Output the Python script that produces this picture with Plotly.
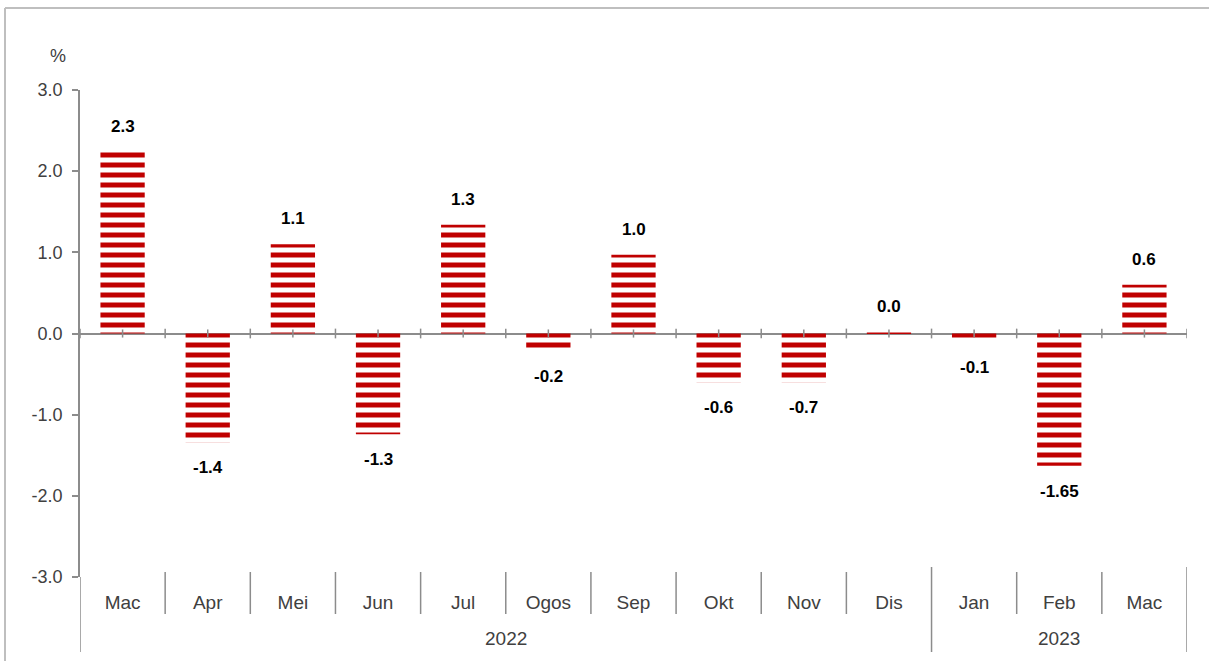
import plotly.graph_objects as go

years = ["2022"] * 10 + ["2023"] * 3
months = ["Mac", "Apr", "Mei", "Jun", "Jul", "Ogos", "Sep", "Okt", "Nov", "Dis", "Jan", "Feb", "Mac"]
values = [2.24, -1.34, 1.10, -1.24, 1.34, -0.21, 0.97, -0.60, -0.60, 0.02, -0.10, -1.63, 0.60]
labels = ["2.3", "-1.4", "1.1", "-1.3", "1.3", "-0.2", "1.0", "-0.6", "-0.7", "0.0", "-0.1", "-1.65", "0.6"]
y_ticks = [-3, -2, -1, 0, 1, 2, 3]
y_ticktext = ["-3.0", "-2.0", "-1.0", "0.0", "1.0", "2.0", "3.0"]

RED = "#C00000"
GREY = "#8C8C8C"
TXT = "#404040"
W, H = 1209, 661
ML, MR, MT, MB = 80, 22, 90, 84
PW, PH = W - ML - MR, H - MT - MB

n = len(months)
xpos = list(range(n))

fig = go.Figure()
fig.add_trace(go.Bar(
    x=xpos, y=values, width=0.52,
    marker=dict(color="white", line=dict(width=0),
                pattern=dict(shape="-", fgcolor=RED, bgcolor="white", fgopacity=1,
                             size=10, solidity=0.5, fillmode="replace")),
    hoverinfo="skip",
))

shapes = []
# zero-line crossing ticks
for i in range(n + 1):
    shapes.append(dict(type="line", xref="x", yref="y", x0=i - 0.5, x1=i - 0.5, y0=-0.06, y1=0.06,
                       line=dict(color=GREY, width=1.5)))
for i in range(n):
    shapes.append(dict(type="line", xref="x", yref="y", x0=i, x1=i, y0=-0.05, y1=0.05,
                       line=dict(color=GREY, width=1.5)))
# month dividers below plot
for i in range(1, n):
    if years[i] != years[i - 1]:
        continue
    shapes.append(dict(type="line", xref="x", yref="paper", x0=i - 0.5, x1=i - 0.5,
                       y0=5 / PH, y1=-37 / PH, line=dict(color=GREY, width=1.5)))
# year dividers
for i in range(n + 1):
    if i == 0 or i == n or years[i] != years[i - 1]:
        shapes.append(dict(type="line", xref="x", yref="paper", x0=i - 0.5, x1=i - 0.5,
                           y0=0 if i == 0 else 10 / PH, y1=-75 / PH,
                           line=dict(color=GREY, width=1.5)))
# outer frame lines
shapes.append(dict(type="line", xref="paper", yref="paper", x0=(5 - ML) / PW, x1=(W - ML) / PW,
                   y0=(PH + MT - 8) / PH, y1=(PH + MT - 8) / PH, line=dict(color="#BFBFBF", width=2)))
shapes.append(dict(type="line", xref="paper", yref="paper", x0=(5 - ML) / PW, x1=(5 - ML) / PW,
                   y0=(PH + MT - 8) / PH, y1=-MB / PH, line=dict(color="#BFBFBF", width=2)))

annotations = []
for i, (v, t) in enumerate(zip(values, labels)):
    pos = v >= 0
    annotations.append(dict(x=i, y=v, xref="x", yref="y", text=t, showarrow=False,
                            yanchor="bottom" if pos else "top", yshift=14 if pos else -14,
                            font=dict(family="Liberation Sans Narrow, Arial Narrow, Liberation Sans, Arial",
                                      size=17, color="black", weight="bold")))
# year labels
seen = []
for y in years:
    if y not in seen:
        seen.append(y)
for yr in seen:
    idx = [i for i, v in enumerate(years) if v == yr]
    annotations.append(dict(x=(idx[0] + idx[-1]) / 2, y=-61 / PH, xref="x", yref="paper", text=yr,
                            showarrow=False, yanchor="middle",
                            font=dict(family="Liberation Sans, Arial", size=19, color=TXT)))
annotations.append(dict(x=(48 - ML) / PW, y=(PH + MT - 44) / PH, xref="paper", yref="paper", text="%",
                        showarrow=False, font=dict(family="Liberation Sans, Arial", size=18, color=TXT)))

fig.update_layout(
    width=W, height=H,
    margin=dict(l=ML, r=MR, t=MT, b=MB, autoexpand=False),
    paper_bgcolor="white", plot_bgcolor="white",
    showlegend=False,
    font=dict(family="Liberation Sans, Arial", size=16, color=TXT),
    xaxis=dict(range=[-0.5, n - 0.5], tickvals=xpos, ticktext=months, showgrid=False, showline=False,
               zeroline=False, ticks="outside", ticklen=8, tickcolor="rgba(0,0,0,0)",
               tickfont=dict(size=19, color=TXT)),
    yaxis=dict(range=[-3, 3], tickvals=y_ticks, ticktext=y_ticktext, showgrid=False,
               showline=True, linecolor=GREY, linewidth=1.5, ticks="outside", ticklen=6,
               tickcolor=GREY, tickwidth=1.5, zeroline=True, zerolinecolor=GREY, zerolinewidth=2,
               ticklabelstandoff=6, tickfont=dict(size=18, color=TXT)),
    shapes=shapes, annotations=annotations,
)
fig.write_html("out.html", config={"displayModeBar": False},
               post_script="document.body.style.margin='0';")
